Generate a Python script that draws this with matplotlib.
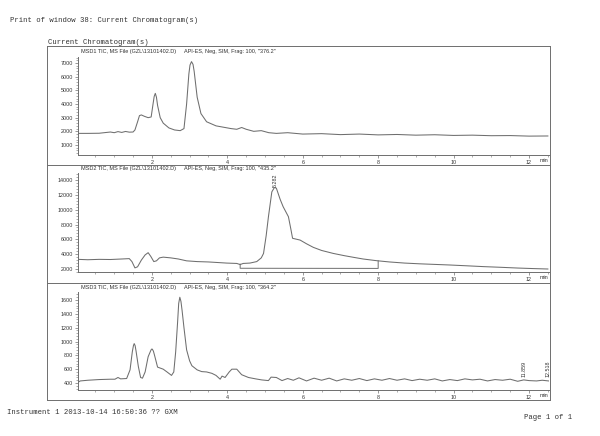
import matplotlib
matplotlib.use("Agg")
import matplotlib.pyplot as plt
from matplotlib.lines import Line2D
from matplotlib.ticker import AutoMinorLocator, MultipleLocator

# ---------------- data ----------------
t1 = [0.04, 0.3, 0.6, 0.9, 1.0, 1.1, 1.2, 1.3, 1.4, 1.5, 1.55, 1.62, 1.67, 1.72, 1.8, 1.9, 1.98,
      2.03, 2.06, 2.09, 2.12, 2.15, 2.22, 2.3, 2.45, 2.6, 2.75, 2.85, 2.92, 2.98, 3.01, 3.05,
      3.09, 3.12, 3.2, 3.3, 3.45, 3.7, 3.9, 4.1, 4.25, 4.38, 4.5, 4.7, 4.9, 5.1, 5.3, 5.6, 6.0,
      6.5, 7.0, 7.5, 8.0, 8.5, 9.0, 9.5, 10.0, 10.5, 11.0, 11.5, 12.0, 12.5]
v1 = [1850, 1850, 1860, 1950, 1900, 1980, 1920, 1990, 1940, 1950, 2100, 2700, 3150, 3200, 3100,
      3000, 3050, 4000, 4550, 4780, 4500, 3900, 3000, 2600, 2250, 2100, 2050, 2200, 4000, 6200,
      6850, 7100, 6900, 6400, 4500, 3300, 2700, 2400, 2300, 2200, 2150, 2280, 2150, 2000, 2050,
      1900, 1850, 1900, 1800, 1830, 1760, 1800, 1740, 1770, 1720, 1750, 1700, 1720, 1680, 1690,
      1650, 1660]

t2 = [0.04, 0.3, 0.6, 0.9, 1.2, 1.4, 1.47, 1.55, 1.62, 1.72, 1.82, 1.9, 1.97, 2.05, 2.12, 2.2,
      2.3, 2.5, 2.7, 2.92, 3.2, 3.5, 3.98, 4.25, 4.34, 4.42, 4.6, 4.78, 4.9, 4.96, 5.03, 5.09,
      5.18, 5.25, 5.3, 5.4, 5.48, 5.62, 5.68, 5.73, 5.93, 6.1, 6.28, 6.5, 6.81, 7.1, 7.34, 7.6,
      7.96, 8.3, 8.7, 9.1, 9.5, 9.9, 10.4, 10.8, 11.25, 11.7, 12.1, 12.5]
v2 = [3300, 3250, 3300, 3280, 3350, 3400, 3000, 2150, 2300, 3200, 3900, 4200, 3700, 3000, 3100,
      3500, 3600, 3500, 3350, 3100, 3000, 2950, 2800, 2750, 2600, 2750, 2800, 3000, 3500, 4100,
      6500, 9050, 12400, 13000, 12900, 11400, 10400, 9050, 7500, 6140, 5900, 5400, 4920, 4500,
      4100, 3800, 3580, 3350, 3120, 2950, 2800, 2700, 2620, 2540, 2420, 2320, 2230, 2130, 2060,
      2000]
base2_t = [4.34, 4.34, 8.0, 8.0]
base2_v = [2650, 2100, 2080, 3100]

t3 = [0.04, 0.1, 0.3, 0.6, 0.9, 1.02, 1.1, 1.17, 1.33, 1.42, 1.48, 1.51, 1.53, 1.555, 1.58,
      1.64, 1.7, 1.75, 1.82, 1.9, 1.97, 1.99, 2.01, 2.04, 2.07, 2.15, 2.3, 2.4, 2.52, 2.58, 2.63,
      2.68, 2.71, 2.74, 2.77, 2.8, 2.85, 2.92, 3.0, 3.06, 3.2, 3.32, 3.45, 3.59, 3.7, 3.81, 3.86,
      3.94, 4.05, 4.12, 4.25, 4.38, 4.56, 4.75, 4.91, 5.09, 5.16, 5.3, 5.45, 5.6, 5.75, 5.9, 6.1,
      6.3, 6.5, 6.7, 6.9, 7.1, 7.3, 7.5, 7.7, 7.9, 8.1, 8.3, 8.5, 8.7, 8.9, 9.1, 9.3, 9.5, 9.7,
      9.9, 10.1, 10.3, 10.5, 10.7, 10.9, 11.1, 11.3, 11.5, 11.7, 11.86, 12.0, 12.2, 12.35, 12.52]
v3 = [410, 430, 440, 450, 455, 455, 480, 460, 465, 590, 850, 940, 970, 940, 860, 640, 480, 470,
      560, 780, 870, 890, 890, 860, 800, 630, 600, 560, 510, 560, 850, 1270, 1550, 1640, 1580,
      1450, 1200, 880, 720, 650, 590, 565, 560, 540, 510, 455, 500, 480, 560, 600, 600, 520, 480,
      460, 445, 435, 485, 480, 435, 465, 440, 475, 430, 470, 440, 470, 430, 460, 440, 465, 435,
      460, 440, 465, 440, 460, 435, 455, 440, 460, 430, 450, 435, 460, 445, 455, 430, 450, 440,
      455, 425, 445, 435, 430, 440, 430]

peak2_t = [5.282]
peak2_v = [13100]
peak3_t = [11.859, 12.518]
peak3_v = [490, 490]

titles_a = ["MSD1 TIC, MS File (GZL\\13101402.D)",
            "MSD2 TIC, MS File (GZL\\13101402.D)",
            "MSD3 TIC, MS File (GZL\\13101402.D)"]
titles_b = ['API-ES, Neg, SIM, Frag: 100, "376.2"',
            'API-ES, Neg, SIM, Frag: 100, "435.2"',
            'API-ES, Neg, SIM, Frag: 100, "364.2"']
x_ticks = [2, 4, 6, 8, 10, 12]
y_ticks = [[1000, 2000, 3000, 4000, 5000, 6000, 7000],
           [2000, 4000, 6000, 8000, 10000, 12000, 14000],
           [400, 600, 800, 1000, 1200, 1400, 1600]]
y_lims = [(268, 7439), (1596, 14944), (299, 1716)]

# ---------------- layout ----------------
W, H = 600, 436
LINE = "#6e6e6e"
TXT = "#333333"

def fx(x):
    return x / W

def fy(y):
    return 1 - y / H

fig = plt.figure(figsize=(6.0, 4.36), dpi=100)
fig.patch.set_facecolor("white")

mono = "Liberation Mono"
sans = "Liberation Sans"

fig.text(fx(10), fy(20), "Print of window 38: Current Chromatogram(s)", family=mono,
         fontsize=5.2, color=TXT, va="center", ha="left")
fig.text(fx(48), fy(42.5), "Current Chromatogram(s)", family=mono, fontsize=5.2,
         color=TXT, va="center", ha="left")
fig.text(fx(7), fy(412), "Instrument 1 2013-10-14 16:50:36 ?? GXM", family=mono,
         fontsize=5.2, color=TXT, va="center", ha="left")
fig.text(fx(524), fy(417), "Page 1 of 1", family=mono, fontsize=5.2, color=TXT,
         va="center", ha="left")

# frame
fl, fr, ft, fb = 47, 550, 46, 400
for (xa, ya, xb, yb) in [(fl, ft, fr, ft), (fl, fb, fr, fb), (fl, ft, fl, fb), (fr, ft, fr, fb),
                         (fl, 165, fr, 165), (fl, 283, fr, 283)]:
    fig.add_artist(Line2D([fx(xa), fx(xb)], [fy(ya), fy(yb)], color=LINE, lw=0.7))

panels = [(57, 155, 52), (173, 272, 168), (292, 390, 287)]
ax_l, ax_r = 78, 549
xlim = (0.04, 12.53)

series = [(t1, v1), (t2, v2), (t3, v3)]
axes = []
for i, (top, bot, ty) in enumerate(panels):
    ax = fig.add_axes([fx(ax_l), fy(bot), fx(ax_r) - fx(ax_l), fy(top) - fy(bot)])
    ax.set_facecolor("none")
    t, v = series[i]
    ax.plot(t, v, color=LINE, lw=0.75)
    ax.set_xlim(*xlim)
    ax.set_ylim(*y_lims[i])
    for s in ["top", "right"]:
        ax.spines[s].set_visible(False)
    for s in ["left", "bottom"]:
        ax.spines[s].set_color(LINE)
        ax.spines[s].set_linewidth(0.7)
    ax.set_xticks(x_ticks)
    ax.set_xticklabels([str(x) for x in x_ticks])
    ax.xaxis.set_minor_locator(MultipleLocator(0.5))
    ax.set_yticks(y_ticks[i])
    ax.yaxis.set_minor_locator(AutoMinorLocator(5))
    ax.tick_params(axis="both", which="major", length=2.2, width=0.5, color=LINE,
                   labelsize=3.9, labelcolor=TXT, pad=1.2)
    ax.tick_params(axis="both", which="minor", length=1.2, width=0.4, color=LINE)
    for lab in ax.get_xticklabels() + ax.get_yticklabels():
        lab.set_family(sans)
    ax.text(0.99, -0.035, "min", transform=ax.transAxes, fontsize=3.9, family=sans,
            color=TXT, ha="center", va="top")
    fig.text(fx(81), fy(ty), titles_a[i], family=sans, fontsize=4.0, color=TXT,
             ha="left", va="center")
    fig.text(fx(184), fy(ty), titles_b[i], family=sans, fontsize=4.0, color=TXT,
             ha="left", va="center")
    axes.append(ax)

axes[1].plot(base2_t, base2_v, color=LINE, lw=0.7)
for pt, pv in zip(peak2_t, peak2_v):
    axes[1].text(pt, pv, f"{pt:.3f}", rotation=90, fontsize=3.9, family=sans, color=TXT,
                 ha="center", va="bottom")
for pt, pv in zip(peak3_t, peak3_v):
    axes[2].text(pt, pv, f"{pt:.3f}", rotation=90, fontsize=3.9, family=sans, color=TXT,
                 ha="center", va="bottom")

fig.savefig("out.png", dpi=100, facecolor="white")
